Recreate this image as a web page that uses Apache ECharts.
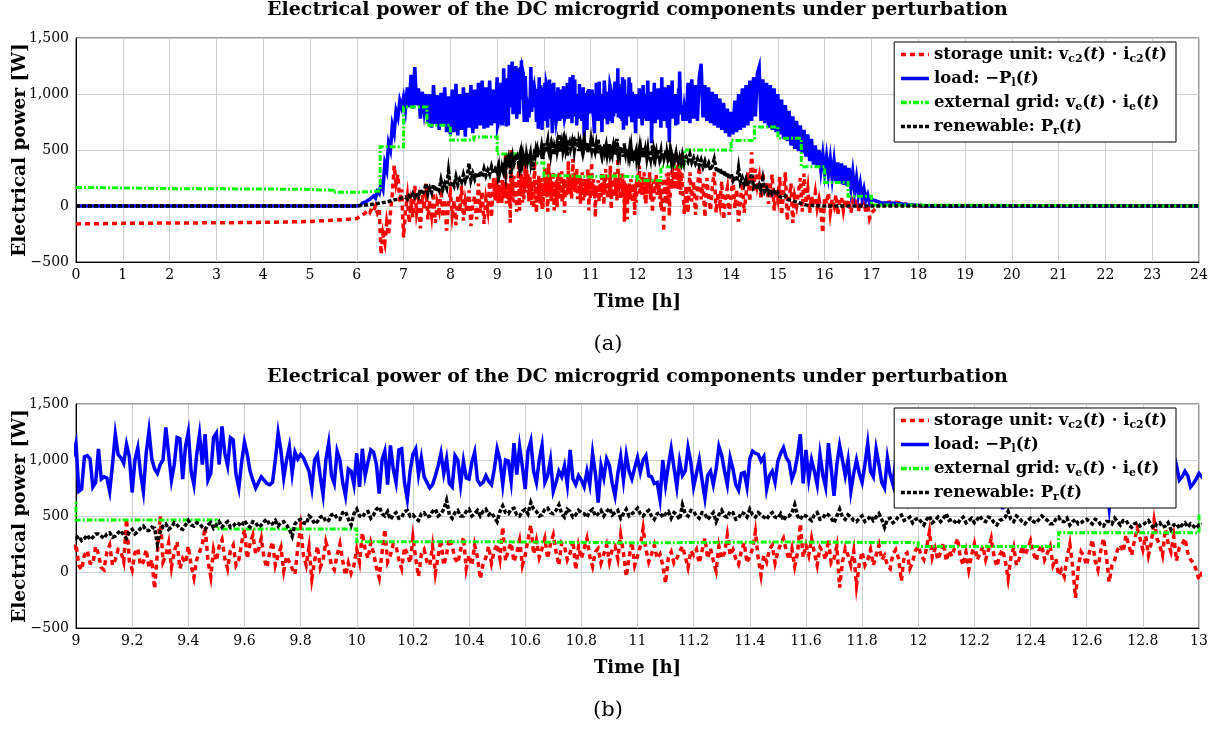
<!DOCTYPE html>
<html>
<head>
<meta charset="utf-8">
<script src="https://cdn.jsdelivr.net/npm/echarts@6/dist/echarts.min.js"></script>
<style>
html,body{margin:0;padding:0;background:#fff;}
#c{width:1217px;height:731px;}
</style>
</head>
<body>
<div id="c"></div>
<script>
// ---------------- DATA ----------------
const TITLE = 'Electrical power of the DC microgrid components under perturbation';
const SERIES_NAMES = ['storage', 'load', 'grid', 'renewable'];

// sampling of the dense parts (hours)
const STEP_A = 0.04;      // panel (a) coarse segments
const SEG1_T0 = 6.04;     // first dense segment start (to 8.96)
const SEG2_T0 = 13.04;    // second dense segment start
const STEP_B = 0.01;      // zoomed window samples (even + odd lists)
const ZOOM_T0 = 9.0;      // zoomed window start (to 13.00)

// ---- load: -P_l(t) ----
const loadPreT = [0, 6.0];
const loadPreV = [0, 0];
const loadSeg1 = [
  10, 5, 25, 15, 40, 30, 60, 45, 90, 70,
  130, 110, 200, 150, 380, 320, 560, 500, 720, 650,
  850, 790, 940, 880, 970, 860, 1060, 880, 1170, 870,
  1240, 900, 1050, 780, 1020, 850, 1000, 740, 1000, 700,
  1080, 730, 990, 680, 1010, 720, 1060, 660, 980, 640,
  1040, 660, 1090, 630, 1000, 680, 1060, 620, 1010, 700,
  1080, 650, 1040, 690, 1100, 720, 1120, 690, 1060, 700,
  1120, 720, 1040, 740
];
// zoom window, samples at 9.00, 9.02, ... 13.00
const loadZoomEven = [
  1150, 740, 1040, 760, 1100, 850, 720, 1230, 1020, 1140,
  710, 1110, 720, 1260, 920, 960, 1290, 820, 1200, 830,
  1250, 780, 1230, 1230, 880, 1240, 1300, 950, 1180, 750,
  1160, 900, 750, 850, 790, 800, 1240, 840, 1120, 1070,
  1050, 960, 750, 1045, 690, 1150, 790, 1000, 680, 900,
  1060, 1100, 980, 1070, 700, 1080, 1130, 800, 1100, 650,
  1050, 870, 850, 750, 860, 1060, 1010, 760, 1000, 990,
  830, 1070, 780, 860, 780, 1100, 780, 990, 1150, 1120,
  740, 1170, 800, 1130, 860, 720, 900, 950, 1090, 780,
  820, 900, 1060, 620, 840, 950, 680, 1030, 1045, 830,
  1020, 1000, 860, 790, 650, 780, 1100, 760, 860, 1110,
  760, 1000, 660, 900, 920, 1040, 780, 920, 730, 890,
  1010, 1060, 990, 740, 900, 990, 1110, 980, 900, 1230,
  1090, 1000, 780, 870, 1150, 680, 1130, 860, 720, 1000,
  800, 1150, 850, 960, 750, 870, 1000, 940, 650, 850,
  1000, 780, 1050, 820, 960, 720, 1080, 870, 780, 1000,
  840, 1120, 760, 950, 880, 560, 1020, 800, 1100, 740,
  930, 860, 1050, 770, 980, 700, 1150, 820, 900, 1060,
  760, 980, 700, 1080, 570, 940, 820, 1120, 780, 900,
  1000, 720, 880, 730, 1050, 1200, 950, 850, 860, 790,
  880
];
// zoom window, samples at 9.01, 9.03, ... 12.99
const loadZoomOdd = [
  720, 1030, 1010, 800, 830, 840, 960, 1050, 970, 1030,
  1000, 880, 1060, 1010, 880, 1000, 1050, 960, 1190, 1120,
  900, 1050, 960, 820, 1200, 960, 1060, 1200, 870, 980,
  1050, 820, 800, 820, 780, 1000, 1080, 1000, 880, 1010,
  1020, 900, 1000, 850, 1000, 860, 1080, 800, 920, 780,
  760, 860, 1090, 960, 1000, 780, 920, 1090, 800, 900,
  1100, 1020, 800, 780, 950, 880, 790, 1040, 780, 840,
  980, 820, 800, 810, 920, 1000, 1000, 810, 870, 940,
  1080, 900, 1000, 800, 1000, 800, 850, 780, 830, 860,
  760, 780, 880, 950, 1010, 790, 880, 820, 900, 930,
  890, 1040, 850, 800, 1000, 950, 930, 990, 900, 980,
  880, 820, 860, 780, 1120, 900, 1020, 780, 880, 760,
  1080, 1050, 1030, 860, 800, 1060, 1020, 830, 1040, 790,
  830, 900, 1050, 760, 920, 960, 1000, 1000, 880, 880,
  960, 900, 1100, 800, 1020, 780, 830, 760, 900, 920,
  870, 940, 870, 1030, 800, 900, 930, 1000, 950, 760,
  1000, 880, 1020, 780, 1000, 780, 920, 990, 820, 1040,
  780, 990, 880, 1040, 820, 960, 880, 1060, 760, 910,
  1010, 820, 960, 780, 830, 1040, 980, 860, 1000, 780,
  800, 960, 760, 940, 880, 1050, 820, 900, 760, 830
];
const loadSeg2 = [
  760, 1100, 740, 1130, 780, 1080, 760, 1150, 1270, 790,
  1080, 760, 1060, 740, 1020, 720, 1000, 700, 960, 680,
  920, 650, 870, 620, 840, 640, 940, 660, 1000, 680,
  1050, 700, 1080, 720, 1120, 760, 1150, 800, 1180, 1240,
  760, 1130, 740, 1100, 700, 1080, 680, 1050, 660, 1000,
  640, 950, 600, 900, 580, 850, 540, 800, 510, 760,
  490, 720, 470, 680, 440, 640, 400, 600, 370, 540,
  340, 500, 320, 460, 300, 440, 280, 420, 250, 400,
  220, 390, 200, 380, 190, 360, 180, 340, 160, 300,
  130, 250, 100, 200, 70, 150, 50, 100, 30, 60
];
const loadPostT = [17.2, 17.5, 17.8, 18.2, 24];
const loadPostV = [30, 25, 12, 0, 0];

// ---- storage unit: v_c2(t) * i_c2(t) ----
const storPreT = [0, 0.5, 1, 2, 3, 4, 4.5, 5, 5.5, 6.0];
const storPreV = [-160, -158, -155, -152, -150, -146, -142, -138, -128, -112];
const storSeg1 = [
  -100, -90, -80, -70, -60, -40, -60, -20, -40, 0,
  -60, -20, -430, -250, -330, -150, -260, -60, 100, 360,
  200, 280, 30, 150, -280, -50, 80, -150, 20, -100,
  180, -60, 40, -200, 100, -30, 200, -120, 50, -80,
  120, -150, 30, -40, 150, -100, 60, -220, 10, 120,
  -80, 50, -170, 100, -50, 180, -130, 40, -60, 140,
  -180, 20, 90, -120, 200, -60, 130, -160, 60, -40,
  220, -100, 250, 50
];
const storZoomEven = [
  250, 20, 190, 70, 160, 20, 240, 110, 180, 470,
  20, 210, 90, 40, -150, 500, 150, 40, 270, 120,
  230, -50, 180, 400, -40, 100, 290, 30, 240, 110,
  380, 250, 160, 300, 40, 270, 150, 10, 90, -20,
  400, 60, -60, 230, 110, 180, 20, 250, -30, -10,
  200, 350, 120, 170, -50, 380, 150, 230, 30, 160,
  310, -40, 200, 60, -10, 290, 160, 230, 80, 310,
  150, 240, -60, 130, 80, 250, 400, 200, 90, 280,
  150, 420, 280, 210, 120, 330, 60, 230, 170, 20,
  120, 300, 50, 210, 160, 90, 230, 330, -40, 270,
  140, 390, 90, 240, 160, -100, 180, 120, 230, 40,
  150, 80, 300, 210, 10, 120, 330, 200, 70, 260,
  140, 360, -30, 90, 240, 180, 300, 110, 50, 430,
  240, 300, 60, 180, 290, 120, -140, 210, 60, -120,
  180, 110, 60, 240, 150, 30, 200, -80, 170, 90,
  230, 110, 360, 210, 180, 100, 140, 300, 60, 20,
  250, 160, 110, 300, 50, 200, -60, 220, 120, 150,
  280, 100, 240, 170, 60, -30, -40, 250, -230, 180,
  60, 290, 20, 300, -90, 110, 240, 330, 150, 390,
  200, 150, 460, 240, 380, 180, 100, 250, 170, 80,
  -70
];
const storZoomOdd = [
  60, 150, 80, 230, 40, 180, 60, 200, 90, 100,
  170, 60, 200, 110, 180, 90, 260, 180, 30, 80,
  60, 110, 250, 100, 200, 230, 120, 190, 60, 260,
  120, 330, 200, 120, 180, 60, 220, 140, 30, 220,
  150, 220, 100, 40, 270, 60, 150, 100, 80, 60,
  90, 200, 260, 40, 170, 90, 250, 110, 220, 80,
  120, 160, 90, 230, 140, 60, 300, 120, 200, 30,
  60, 130, 70, 230, 190, 120, 100, 260, 170, 60,
  290, 160, 130, 300, 250, 180, 260, 110, 280, 230,
  210, 140, 180, 80, 240, 200, 120, 170, 130, 60,
  230, 200, 160, 120, 60, 130, 80, 180, 140, 190,
  200, 190, 120, 100, 230, 170, 150, 120, 190, 80,
  210, 120, 150, 200, 80, 250, 190, 210, 170, 130,
  150, 170, 220, 110, 80, 230, 90, 150, 190, 70,
  60, 200, 150, 110, 60, 160, 120, 150, 30, 190,
  150, 220, 130, 110, 260, 190, 220, 130, 180, 150,
  110, 230, 200, 140, 150, 100, 130, 60, 230, 210,
  170, 190, 110, 230, 120, 20, 130, 50, 40, 140,
  180, 100, 190, 140, 60, 200, 180, 240, 280, 300,
  320, 260, 300, 150, 260, 320, 220, 300, 110, 20
];
const storSeg2 = [
  180, -60, 300, 40, 220, -80, 150, 350, 60, 200,
  -100, 250, 90, -40, 180, 300, -60, 120, 20, 220,
  -120, 80, 160, -80, 100, 240, -20, 150, -140, 60,
  210, -60, 110, 300, 40, 480, 120, 330, 180, 260,
  60, 300, 140, 220, 20, 180, 280, -40, 150, 60,
  260, -80, 120, 300, -130, 60, 200, -150, 80, 0,
  120, 250, -50, 290, 20, 150, -60, 90, 10, 120,
  -20, 60, -40, -240, 80, 20, 120, -60, 60, 0,
  100, -80, 40, 80, -40, 60, -20, 50, -60, 40,
  0, 60, -50, 30, -20, 40, -60, 20, -110, -60
];
const storPostT = [17.2, 17.4, 17.6, 17.8, 18.0, 24];
const storPostV = [20, 35, 30, 10, 0, 0];

// ---- renewable: P_r(t) ----
const renPreT = [0, 6.0];
const renPreV = [0, 0];
const renSeg1 = [
  0, 5, 0, 8, 5, 12, 8, 15, 10, 20,
  15, 25, 20, 30, 25, 35, 30, 45, 35, 55,
  45, 60, 50, 70, 55, 80, 60, 90, 70, 110,
  80, 120, 85, 150, 100, 130, 200, 110, 160, 120,
  190, 130, 170, 140, 230, 150, 200, 160, 310, 170,
  220, 180, 260, 190, 240, 210, 280, 220, 260, 380,
  230, 290, 240, 300, 250, 310, 260, 330, 270, 320,
  280, 350, 290, 330
];
const renZoomEven = [
  300, 280, 330, 310, 340, 300, 350, 320, 370, 300,
  380, 360, 410, 370, 390, 360, 430, 400, 420, 380,
  460, 410, 430, 380, 440, 420, 400, 450, 410, 430,
  460, 400, 440, 420, 470, 430, 410, 450, 380, 430,
  470, 430, 480, 450, 500, 460, 520, 470, 540, 420,
  560, 490, 540, 510, 580, 500, 470, 530, 490, 550,
  510, 460, 530, 500, 560, 520, 640, 480, 550, 500,
  560, 520, 500, 560, 530, 450, 590, 520, 570, 500,
  560, 620, 540, 510, 570, 520, 600, 490, 540, 510,
  530, 490, 560, 520, 500, 570, 530, 480, 560, 520,
  570, 500, 550, 470, 530, 520, 480, 510, 600, 500,
  540, 480, 520, 500, 450, 550, 490, 530, 480, 520,
  560, 490, 510, 470, 530, 480, 460, 500, 600, 470,
  500, 460, 530, 480, 510, 440, 560, 470, 490, 450,
  500, 470, 460, 520, 400, 480, 460, 510, 470, 440,
  480, 420, 500, 460, 450, 520, 470, 430, 490, 460,
  440, 500, 450, 480, 420, 470, 540, 450, 480, 430,
  480, 440, 500, 460, 430, 490, 450, 420, 470, 440,
  470, 430, 460, 410, 450, 480, 420, 460, 400, 440,
  420, 460, 390, 440, 410, 380, 430, 420, 400, 410,
  420
];
const renZoomOdd = [
  320, 300, 290, 340, 320, 340, 310, 350, 330, 360,
  340, 390, 370, 400, 250, 410, 380, 440, 390, 420,
  420, 440, 400, 420, 390, 450, 430, 400, 440, 410,
  420, 450, 400, 450, 420, 460, 440, 420, 320, 460,
  440, 500, 430, 490, 450, 510, 480, 530, 470, 520,
  500, 530, 480, 560, 520, 540, 510, 480, 540, 500,
  480, 520, 490, 540, 500, 560, 510, 530, 500, 540,
  500, 550, 540, 510, 490, 540, 530, 560, 510, 540,
  520, 560, 500, 560, 530, 550, 520, 560, 490, 550,
  520, 540, 500, 550, 540, 510, 550, 520, 500, 540,
  520, 530, 500, 520, 490, 540, 530, 470, 520, 550,
  500, 530, 470, 530, 510, 500, 540, 470, 530, 490,
  510, 530, 490, 510, 490, 520, 500, 530, 500, 510,
  480, 510, 470, 520, 480, 500, 490, 510, 460, 480,
  450, 500, 490, 470, 470, 440, 500, 460, 490, 470,
  450, 470, 440, 490, 480, 460, 450, 470, 440, 480,
  470, 460, 490, 440, 460, 490, 470, 500, 450, 460,
  450, 470, 480, 430, 470, 450, 480, 450, 430, 460,
  450, 470, 420, 450, 430, 450, 460, 420, 430, 410,
  440, 420, 430, 400, 440, 420, 390, 440, 430, 390
];
const renSeg2 = [
  440, 400, 460, 390, 430, 380, 420, 360, 410, 350,
  400, 340, 380, 320, 360, 420, 330, 300, 340, 280,
  320, 260, 300, 240, 290, 230, 270, 220, 340, 210,
  250, 190, 240, 180, 230, 290, 170, 200, 150, 190,
  140, 240, 130, 160, 115, 150, 105, 130, 95, 120,
  85, 100, 70, 90, 60, 75, 50, 60, 40, 48,
  30, 38, 20, 24, 10, 10, 5, 0
];
const renPostT = [16.0, 24];
const renPostV = [0, 0];

// ---- external grid: v_e(t) * i_e(t) (piecewise constant, level held from each time) ----
const gridStepT = [0, 0.5, 2, 4, 5, 5.5, 6, 6.5, 7, 7.5, 8, 8.5, 9, 9.5, 10, 10.5, 11, 11.5, 12, 12.5, 13, 14, 14.5, 15, 15.5, 16, 16.5, 17, 18, 24];
const gridStepV = [165, 155, 152, 148, 140, 122, 135, 530, 885, 720, 590, 615, 465, 385, 270, 260, 268, 262, 228, 350, 500, 585, 705, 605, 350, 210, 88, 8, 0, 0];

// axis ticks
const Y_MIN = -500, Y_MAX = 1500, Y_INTERVAL = 500;
const XA_MIN = 0, XA_MAX = 24, XA_INTERVAL = 1;
const XB_MIN = 9, XB_MAX = 13, XB_INTERVAL = 0.2;

// ---------------- BUILD ----------------
function pairs(ts, vs) { return ts.map((t, i) => [t, vs[i]]); }
function sampled(t0, step, vs) { return vs.map((v, i) => [Math.round((t0 + i * step) * 1000) / 1000, v]); }
function merge(even, odd) {
  const out = [];
  for (let i = 0; i < even.length; i++) { out.push(even[i]); if (i < odd.length) out.push(odd[i]); }
  return out;
}
function build(preT, preV, seg1, zEven, zOdd, seg2, postT, postV) {
  return [].concat(
    pairs(preT, preV),
    sampled(SEG1_T0, STEP_A, seg1),
    sampled(ZOOM_T0, STEP_B, merge(zEven, zOdd)),
    sampled(SEG2_T0, STEP_A, seg2),
    pairs(postT, postV)
  );
}
const storageData = build(storPreT, storPreV, storSeg1, storZoomEven, storZoomOdd, storSeg2, storPostT, storPostV);
const loadData = build(loadPreT, loadPreV, loadSeg1, loadZoomEven, loadZoomOdd, loadSeg2, loadPostT, loadPostV);
const renewData = build(renPreT, renPreV, renSeg1, renZoomEven, renZoomOdd, renSeg2, renPostT, renPostV);
const gridData = pairs(gridStepT, gridStepV);

const FONT = 'DejaVu Serif';
const C_RED = '#ff0000', C_BLUE = '#0000ff', C_GREEN = '#00ff00', C_BLACK = '#000000';

const LEGEND_TEXT = {
  storage: '{n|storage unit: v}{s|c2}{n|(}{i|t}{n|) · i}{s|c2}{n|(}{i|t}{n|)}',
  load: '{n|load: −P}{s|l}{n|(}{i|t}{n|)}',
  grid: '{n|external grid: v}{s|e}{n|(}{i|t}{n|) · i}{s|e}{n|(}{i|t}{n|)}',
  renewable: '{n|renewable: P}{s|r}{n|(}{i|t}{n|)}'
};

function yFmt(v) { return v < 0 ? '\u2212' + Math.abs(v) : v.toLocaleString('en-US'); }
function xFmtB(v) { return String(+(+v).toFixed(1)); }

function makeX(idx, min, max, interval, fmt) {
  return {
    gridIndex: idx, type: 'value', min: min, max: max, interval: interval,
    name: 'Time [h]', nameLocation: 'middle', nameGap: 31, nameMoveOverlap: false,
    nameTextStyle: { fontFamily: FONT, fontSize: 18, fontWeight: 'bold', color: '#000' },
    axisLine: { onZero: false, lineStyle: { color: '#000', width: 1 } },
    axisTick: { show: false },
    axisLabel: { fontFamily: FONT, fontSize: 14, color: '#000', margin: 6, formatter: fmt, showMinLabel: true, showMaxLabel: true, hideOverlap: false },
    splitLine: { show: true, lineStyle: { color: '#cfcfcf', width: 1 } }
  };
}
function makeY(idx) {
  return {
    gridIndex: idx, type: 'value', min: Y_MIN, max: Y_MAX, interval: Y_INTERVAL,
    name: 'Electrical power [W]', nameLocation: 'middle', nameGap: 46, nameMoveOverlap: false,
    nameTextStyle: { fontFamily: FONT, fontSize: 18.5, fontWeight: 'bold', color: '#000' },
    axisLine: { show: true, onZero: false, lineStyle: { color: '#000', width: 1 } },
    axisTick: { show: false },
    axisLabel: { fontFamily: FONT, fontSize: 14, color: '#000', margin: 7, formatter: yFmt },
    splitLine: { show: true, lineStyle: { color: '#cfcfcf', width: 1 } }
  };
}
function makeLegend(top) {
  return {
    orient: 'vertical', right: 41, top: top,
    backgroundColor: '#fff', borderColor: '#000', borderWidth: 1,
    padding: [4, 9, 5, 5], itemWidth: 28, itemHeight: 14, itemGap: 5,
    selectedMode: false,
    itemStyle: { opacity: 0 },
    lineStyle: { width: 3.5 },
    data: SERIES_NAMES,
    formatter: n => LEGEND_TEXT[n],
    textStyle: {
      fontFamily: FONT, fontSize: 16.5, fontWeight: 'bold', color: '#000',
      rich: {
        n: { fontFamily: FONT, fontSize: 16.5, fontWeight: 'bold', color: '#000', lineHeight: 21 },
        s: { fontFamily: FONT, fontSize: 11, fontWeight: 'bold', color: '#000', lineHeight: 13, padding: [6, 0, 0, 0], verticalAlign: 'bottom' },
        i: { fontFamily: FONT, fontSize: 16.5, fontStyle: 'italic', fontWeight: 'bold', color: '#000', lineHeight: 21 }
      }
    }
  };
}
function makeSeries(idx) {
  const base = { type: 'line', xAxisIndex: idx, yAxisIndex: idx, symbol: 'none', showSymbol: false, silent: true, clip: true, animation: false };
  const ls = (c, w, t) => ({ color: c, width: w, type: t, join: 'miter', miterLimit: 10 });
  return [
    Object.assign({}, base, { name: 'storage', data: storageData, lineStyle: ls(C_RED, 3.5, [5, 4]), itemStyle: { color: C_RED } }),
    Object.assign({}, base, { name: 'load', data: loadData, lineStyle: ls(C_BLUE, 3.5, 'solid'), itemStyle: { color: C_BLUE } }),
    Object.assign({}, base, { name: 'grid', data: gridData, step: 'end', lineStyle: ls(C_GREEN, 3, [6, 2, 2, 2]), itemStyle: { color: C_GREEN } }),
    Object.assign({}, base, { name: 'renewable', data: renewData, lineStyle: ls(C_BLACK, 3.5, [4, 2]), itemStyle: { color: C_BLACK } })
  ];
}

const titleStyle = { fontFamily: FONT, fontSize: 19, fontWeight: 'bold', color: '#000' };
const capStyle = { fontFamily: FONT, fontSize: 21, fontWeight: 'normal', color: '#000' };
const gridBase = { left: 76, width: 1123, height: 224, show: true, borderColor: '#333', borderWidth: 1, backgroundColor: 'transparent', containLabel: false, outerBoundsMode: 'none' };

const option = {
  animation: false,
  backgroundColor: '#fff',
  title: [
    { text: TITLE, left: 637.5, top: 1, textAlign: 'center', padding: 0, textStyle: titleStyle },
    { text: TITLE, left: 637.5, top: 368, textAlign: 'center', padding: 0, textStyle: titleStyle },
    { text: '(a)', left: 608, top: 334, textAlign: 'center', padding: 0, textStyle: capStyle },
    { text: '(b)', left: 608, top: 700, textAlign: 'center', padding: 0, textStyle: capStyle }
  ],
  grid: [
    Object.assign({}, gridBase, { top: 38 }),
    Object.assign({}, gridBase, { top: 404 })
  ],
  xAxis: [makeX(0, XA_MIN, XA_MAX, XA_INTERVAL, null), makeX(1, XB_MIN, XB_MAX, XB_INTERVAL, xFmtB)],
  yAxis: [makeY(0), makeY(1)],
  legend: [makeLegend(42), makeLegend(408)],
  series: makeSeries(0).concat(makeSeries(1))
};

const chart = echarts.init(document.getElementById('c'), null, { renderer: 'canvas' });
chart.setOption(option);
</script>
</body>
</html>
